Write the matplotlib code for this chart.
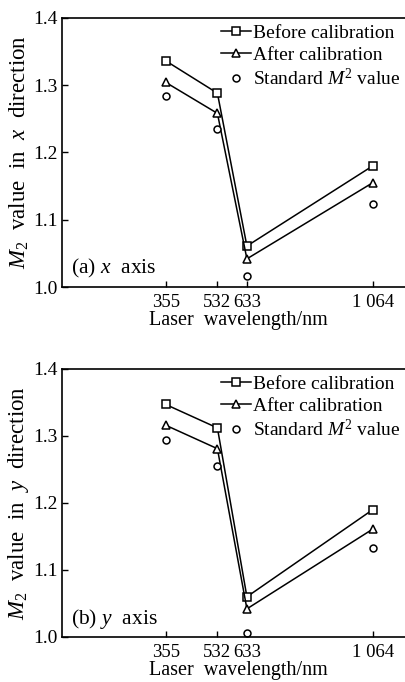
import numpy as np
import matplotlib.pyplot as plt

plt.rcParams['font.family'] = ['Liberation Serif', 'DejaVu Serif']
plt.rcParams['mathtext.fontset'] = 'custom'
plt.rcParams['mathtext.rm'] = 'Liberation Serif'
plt.rcParams['mathtext.it'] = 'Liberation Serif:italic'

# wavelengths (nm)
wavelength = [355, 532, 633, 1064]
tick_labels = ['355', '532', '633', '1 064']

# x direction
before_x = [1.336, 1.288, 1.061, 1.180]
after_x = [1.304, 1.258, 1.042, 1.155]
standard_x = [1.284, 1.235, 1.017, 1.123]

# y direction
before_y = [1.347, 1.312, 1.060, 1.190]
after_y = [1.316, 1.281, 1.042, 1.161]
standard_y = [1.294, 1.255, 1.006, 1.133]

fs = 14

fig = plt.figure(figsize=(4.06, 6.82), dpi=100)
ax1 = fig.add_axes([0.153, 0.579, 0.87, 0.395])
ax2 = fig.add_axes([0.153, 0.066, 0.87, 0.393])

panels = [
    (ax1, before_x, after_x, standard_x, r'(a) $x$  axis', r'$M_2$  value  in  $x$  direction'),
    (ax2, before_y, after_y, standard_y, r'(b) $y$  axis', r'$M_2$  value  in  $y$  direction'),
]

for ax, b, a, s, tag, ylab in panels:
    ax.plot(wavelength, b, '-s', color='black', lw=1.1, ms=6, mfc='white',
            mew=1.1, label='Before calibration')
    ax.plot(wavelength, a, '-^', color='black', lw=1.1, ms=6, mfc='white',
            mew=1.1, label='After calibration')
    ax.plot(wavelength, s, 'o', color='black', ms=5, mfc='white', mew=1.1,
            label=r'Standard $M^2$ value')
    ax.set_xlim(0, 1210)
    ax.set_ylim(1.0, 1.4)
    ax.set_xticks(wavelength)
    ax.set_xticklabels(tick_labels)
    ax.set_yticks([1.0, 1.1, 1.2, 1.3, 1.4])
    ax.tick_params(axis='x', direction='in', length=4, width=1, labelsize=13.5, pad=5)
    ax.tick_params(axis='y', direction='in', length=4, width=1, labelsize=fs, pad=3)
    for sp in ax.spines.values():
        sp.set_linewidth(1.2)
    ax.set_xlabel('Laser  wavelength/nm', fontsize=14.5, labelpad=0)
    ax.set_ylabel(ylab, fontsize=16.5, labelpad=2)
    ax.text(0.025, 0.05, tag, transform=ax.transAxes, fontsize=15.5)
    ax.legend(loc='upper left', bbox_to_anchor=(0.45, 0.975), frameon=False,
              fontsize=14, handlelength=1.55, handletextpad=0.1,
              labelspacing=0.2, borderaxespad=0, borderpad=0)

fig.savefig('out.png', dpi=100)
